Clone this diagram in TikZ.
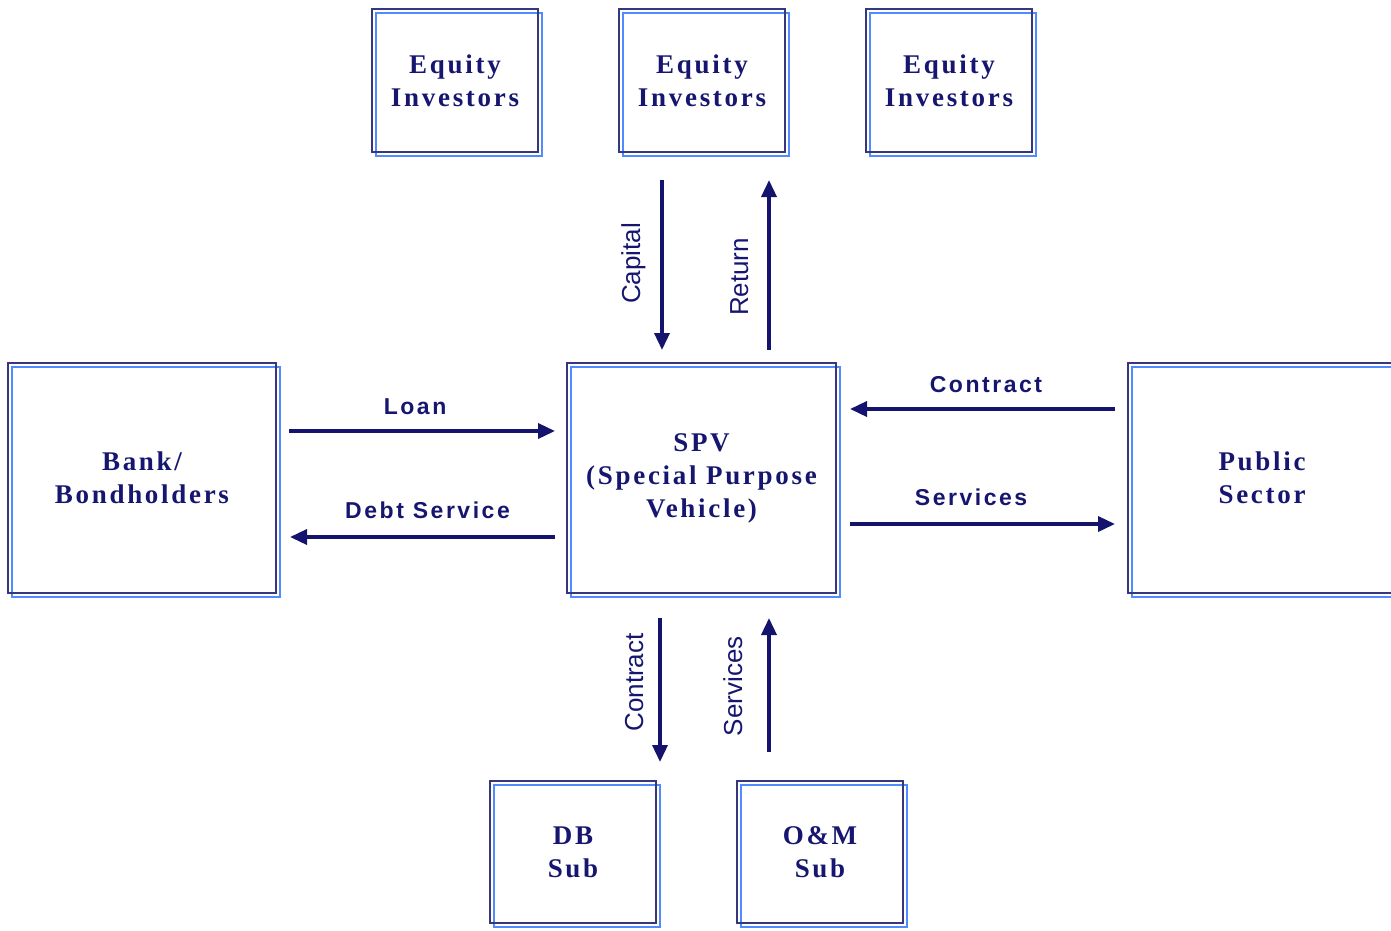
\documentclass[tikz,border=0pt]{standalone}
\usepackage{fontspec}
\usetikzlibrary{arrows.meta}
\newfontfamily\boxfont{Liberation Serif}[LetterSpace=10]
\newfontfamily\lblfont{Liberation Sans}[LetterSpace=11]
\newfontfamily\rotfont{Liberation Sans}
\definecolor{navytext}{RGB}{22,22,112}
\definecolor{navyline}{RGB}{20,20,110}
\definecolor{boxnavy}{RGB}{55,55,125}
\definecolor{boxblue}{RGB}{80,140,255}
\tikzset{
  ibox/.style={draw=boxnavy, line width=2.5pt, inner sep=0pt, outer sep=0pt,
    align=center, text=navytext, font=\boxfont\bfseries\fontsize{27}{33}\selectfont},
  smallbox/.style={ibox, minimum width=166pt, minimum height=143pt},
  bigbox/.style={ibox, minimum width=268pt, minimum height=230pt},
  shadowline/.style={draw=boxblue, line width=2pt},
  flow/.style={draw=navyline, line width=3.5pt, -{Triangle[length=17pt,width=15pt]}},
  hlabel/.style={anchor=base, text=navytext, inner sep=0pt, font=\lblfont\bfseries\fontsize{23}{28}\selectfont},
  vlabel/.style={anchor=base, rotate=90, text=navytext, inner sep=0pt, font=\rotfont\fontsize{26}{30}\selectfont}
}
\begin{document}
\begin{tikzpicture}[x=1pt,y=-1pt]
\useasboundingbox (0,0) rectangle (1391,930);
% blue offset outlines (drawn first)
\foreach \cx/\cy/\w/\h in {455/80.5/166/143, 702/80.5/166/143, 949/80.5/166/143,
  142/478/268/230, 701.5/478/269/230, 1262/478/268/230, 573/852/166/142, 820/852/166/142}{
  \draw[shadowline] (\cx-\w/2+4,\cy-\h/2+4) rectangle (\cx+\w/2+4,\cy+\h/2+4);
}
\node[smallbox] (eq1) at (455,80.5) {Equity\\Investors};
\node[smallbox] (eq2) at (702,80.5) {Equity\\Investors};
\node[smallbox] (eq3) at (949,80.5) {Equity\\Investors};
\node[bigbox] (bank) at (142,478) {Bank/\\Bondholders};
\node[bigbox, minimum width=269pt] (spv) at (701.5,478) {SPV\\(Special Purpose\\Vehicle)};
\node[bigbox] (pub) at (1262,478) {Public\\Sector};
\node[smallbox, minimum height=142pt] (db) at (573,852) {DB\\Sub};
\node[smallbox, minimum height=142pt] (om) at (820,852) {O\&M\\Sub};

% Capital / Return
\draw[flow] ([xshift=-40pt,yshift=-28pt]eq2.south) -- ([xshift=-39.5pt,yshift=13pt]spv.north)
  node[vlabel, pos=0.49, yshift=22pt] (capital) {Capital};
\draw[flow] ([xshift=67.5pt,yshift=13pt]spv.north) -- ([xshift=67pt,yshift=-28pt]eq2.south)
  node[vlabel, pos=0.43, yshift=21pt] (return) {Return};
% Loan / Debt Service
\draw[flow] ([xshift=13pt,yshift=47pt]bank.east) -- ([xshift=-12pt,yshift=47pt]spv.west)
  node[hlabel, pos=0.474, yshift=17pt] (loan) {Loan};
\draw[flow] ([xshift=-12pt,yshift=-59pt]spv.west) -- ([xshift=14pt,yshift=-59pt]bank.east)
  node[hlabel, pos=0.481, yshift=19pt] (debt) {Debt Service};
% Contract / Services (public)
\draw[flow] ([xshift=-13pt,yshift=69pt]pub.west) -- ([xshift=14pt,yshift=69pt]spv.east)
  node[hlabel, pos=0.487, yshift=17pt] (contractR) {Contract};
\draw[flow] ([xshift=14pt,yshift=-46pt]spv.east) -- ([xshift=-13pt,yshift=-46pt]pub.west)
  node[hlabel, pos=0.457, yshift=19pt] (servicesR) {Services};
% Contract / Services (subs)
\draw[flow] ([xshift=-41.5pt,yshift=-25pt]spv.south) -- ([xshift=87pt,yshift=19pt]db.north)
  node[vlabel, pos=0.448, yshift=17pt] (contractB) {Contract};
\draw[flow] ([xshift=-51pt,yshift=29pt]om.north) -- ([xshift=67.5pt,yshift=-25pt]spv.south)
  node[vlabel, pos=0.49, yshift=27pt] (servicesB) {Services};
\end{tikzpicture}
\end{document}
